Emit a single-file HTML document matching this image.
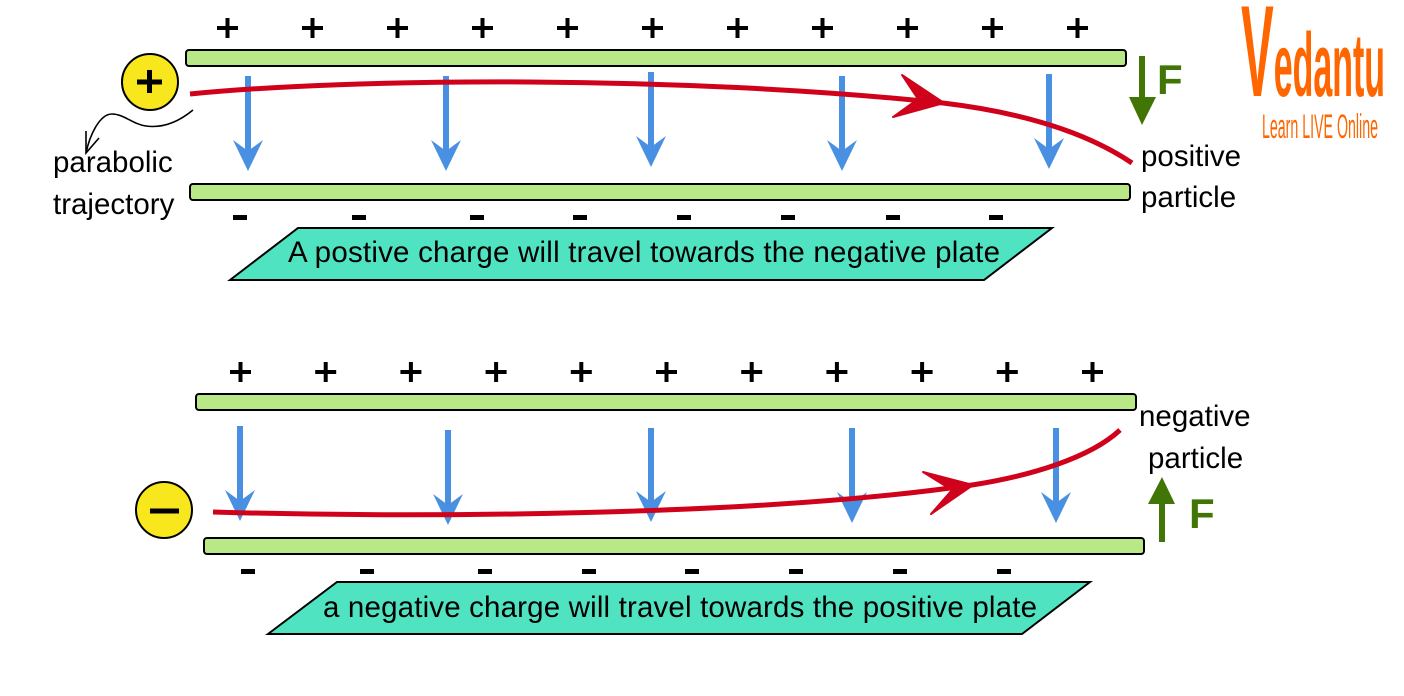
<!DOCTYPE html>
<html>
<head>
<meta charset="utf-8">
<style>
html,body{margin:0;padding:0;background:#fff;}
svg{display:block;}
text{font-family:"Liberation Sans",Arial,sans-serif;}
</style>
</head>
<body>
<svg width="1404" height="696" viewBox="0 0 1404 696" xmlns="http://www.w3.org/2000/svg">
<rect width="1404" height="696" fill="#fff"/>

<!-- ===== TOP SECTION ===== -->
<!-- plus signs -->
<g fill="#000">
  <g id="plusA">
  <rect x="217" y="26" width="21" height="4"/><rect x="225.5" y="18" width="4" height="20"/>
  </g>
  <use href="#plusA" x="85"/><use href="#plusA" x="170"/><use href="#plusA" x="255"/><use href="#plusA" x="340"/>
  <use href="#plusA" x="425"/><use href="#plusA" x="510"/><use href="#plusA" x="595"/><use href="#plusA" x="680"/>
  <use href="#plusA" x="765"/><use href="#plusA" x="850"/>
</g>

<!-- plates -->
<rect x="186" y="50" width="940" height="16" rx="3" fill="#b9e986" stroke="#000" stroke-width="2"/>
<rect x="190" y="184" width="940" height="16" rx="3" fill="#b9e986" stroke="#000" stroke-width="2"/>

<!-- minus signs -->
<g fill="#000">
  <rect x="233" y="215" width="14" height="5"/>
  <rect x="352" y="215" width="14" height="5"/>
  <rect x="470" y="215" width="14" height="5"/>
  <rect x="573" y="215" width="14" height="5"/>
  <rect x="677" y="215" width="14" height="5"/>
  <rect x="781" y="215" width="14" height="5"/>
  <rect x="886" y="215" width="14" height="5"/>
  <rect x="989" y="215" width="14" height="5"/>
</g>

<!-- blue field arrows top -->
<g stroke="#4a90e2" stroke-width="6" fill="none">
  <line x1="248" y1="76" x2="248" y2="152"/>
  <line x1="446" y1="76" x2="446" y2="152"/>
  <line x1="651" y1="72" x2="651" y2="148"/>
  <line x1="842" y1="76" x2="842" y2="152"/>
  <line x1="1049" y1="74" x2="1049" y2="150"/>
</g>
<g fill="#4a90e2">
  <polygon points="248,171 233,140 248,151 263,140"/>
  <polygon points="446,171 431,140 446,151 461,140"/>
  <polygon points="651,167 636,136 651,147 666,136"/>
  <polygon points="842,171 827,140 842,151 857,140"/>
  <polygon points="1049,169 1034,138 1049,149 1064,138"/>
</g>

<!-- red trajectory top -->
<path d="M190,94 C350,78 680,75 943,103 C1010,111 1080,128 1132,163" fill="none" stroke="#d0021b" stroke-width="5"/>
<polygon points="944,103 902,75 918,99 893,117" fill="#d0021b" stroke="#d0021b" stroke-width="2" stroke-linejoin="round"/>

<!-- positive particle -->
<circle cx="150" cy="82" r="28" fill="#f8e71c" stroke="#000" stroke-width="2"/>
<rect x="137" y="79.5" width="25" height="5" fill="#000"/>
<rect x="147" y="70" width="5" height="23" fill="#000"/>

<!-- curly black arrow -->
<path d="M193,110 C176,124 160,128 146,126 C132,124 124,114 112,114 C100,114 90,134 86,153" fill="none" stroke="#000" stroke-width="1.6"/>
<path d="M86,131 L86,153 L99,138" fill="none" stroke="#000" stroke-width="1.6"/>

<text x="53" y="172" font-size="29.5" fill="#000">parabolic</text>
<text x="53" y="214" font-size="29.5" fill="#000">trajectory</text>

<!-- green force arrow top -->
<line x1="1142" y1="56" x2="1142" y2="100" stroke="#417505" stroke-width="6"/>
<polygon points="1129,97 1156,97 1142,125" fill="#417505"/>
<text x="1157" y="94" font-size="42" font-weight="bold" fill="#417505">F</text>

<text x="1141" y="166" font-size="29.5" fill="#000">positive</text>
<text x="1141" y="207" font-size="29.5" fill="#000">particle</text>

<!-- parallelogram top -->
<polygon points="230,280 298,228 1052,228 984,280" fill="#50e3c2" stroke="#000" stroke-width="2"/>
<text x="288" y="262" font-size="29.5" fill="#000" textLength="712" lengthAdjust="spacing">A postive charge will travel towards the negative plate</text>

<!-- ===== BOTTOM SECTION ===== -->
<g fill="#000">
  <g id="plusB">
  <rect x="230" y="370" width="21" height="4"/><rect x="238.5" y="362" width="4" height="20"/>
  </g>
  <use href="#plusB" x="85.2"/><use href="#plusB" x="170.4"/><use href="#plusB" x="255.6"/><use href="#plusB" x="340.8"/>
  <use href="#plusB" x="426"/><use href="#plusB" x="511.2"/><use href="#plusB" x="596.4"/><use href="#plusB" x="681.6"/>
  <use href="#plusB" x="766.8"/><use href="#plusB" x="852"/>
</g>

<rect x="196" y="394" width="940" height="16" rx="3" fill="#b9e986" stroke="#000" stroke-width="2"/>
<rect x="204" y="538" width="940" height="16" rx="3" fill="#b9e986" stroke="#000" stroke-width="2"/>

<g fill="#000">
  <rect x="241" y="569" width="14" height="5"/>
  <rect x="360" y="569" width="14" height="5"/>
  <rect x="478" y="569" width="14" height="5"/>
  <rect x="582" y="569" width="14" height="5"/>
  <rect x="685" y="569" width="14" height="5"/>
  <rect x="789" y="569" width="14" height="5"/>
  <rect x="893" y="569" width="14" height="5"/>
  <rect x="997" y="569" width="14" height="5"/>
</g>

<g stroke="#4a90e2" stroke-width="6" fill="none">
  <line x1="240" y1="426" x2="240" y2="502"/>
  <line x1="448" y1="430" x2="448" y2="506"/>
  <line x1="651" y1="428" x2="651" y2="503"/>
  <line x1="852" y1="428" x2="852" y2="504"/>
  <line x1="1056" y1="428" x2="1056" y2="504"/>
</g>
<g fill="#4a90e2">
  <polygon points="240,521 225,490 240,501 255,490"/>
  <polygon points="448,525 433,494 448,505 463,494"/>
  <polygon points="651,522 636,491 651,502 666,491"/>
  <polygon points="852,523 837,492 852,503 867,492"/>
  <polygon points="1056,523 1041,492 1056,503 1071,492"/>
</g>

<path d="M213,512 C420,518 760,516 972,485 C1030,476 1090,458 1120,430" fill="none" stroke="#d0021b" stroke-width="5"/>
<polygon points="973,485 923,472 952,490 931,514" fill="#d0021b" stroke="#d0021b" stroke-width="2" stroke-linejoin="round"/>

<circle cx="164" cy="510" r="28" fill="#f8e71c" stroke="#000" stroke-width="2"/>
<rect x="150" y="508.5" width="29" height="5" fill="#000"/>

<line x1="1162" y1="542" x2="1162" y2="500" stroke="#417505" stroke-width="6"/>
<polygon points="1148,504 1175,504 1162,477" fill="#417505"/>
<text x="1189" y="528" font-size="42" font-weight="bold" fill="#417505">F</text>

<text x="1139" y="426" font-size="29.5" fill="#000">negative</text>
<text x="1148" y="468" font-size="29.5" fill="#000">particle</text>

<polygon points="268,634 337,582 1090,582 1022,634" fill="#50e3c2" stroke="#000" stroke-width="2"/>
<text x="323" y="617" font-size="29.5" fill="#000" textLength="714" lengthAdjust="spacing">a negative charge will travel towards the positive plate</text>

<!-- ===== LOGO ===== -->
<text x="1241" y="96" font-size="90" font-weight="bold" fill="#ff6600" textLength="144" lengthAdjust="spacingAndGlyphs"><tspan font-size="130">V</tspan>edantu</text>
<text x="1262" y="138" font-size="34" fill="#ff6600" textLength="116" lengthAdjust="spacingAndGlyphs">Learn LIVE Online</text>
</svg>
</body>
</html>
